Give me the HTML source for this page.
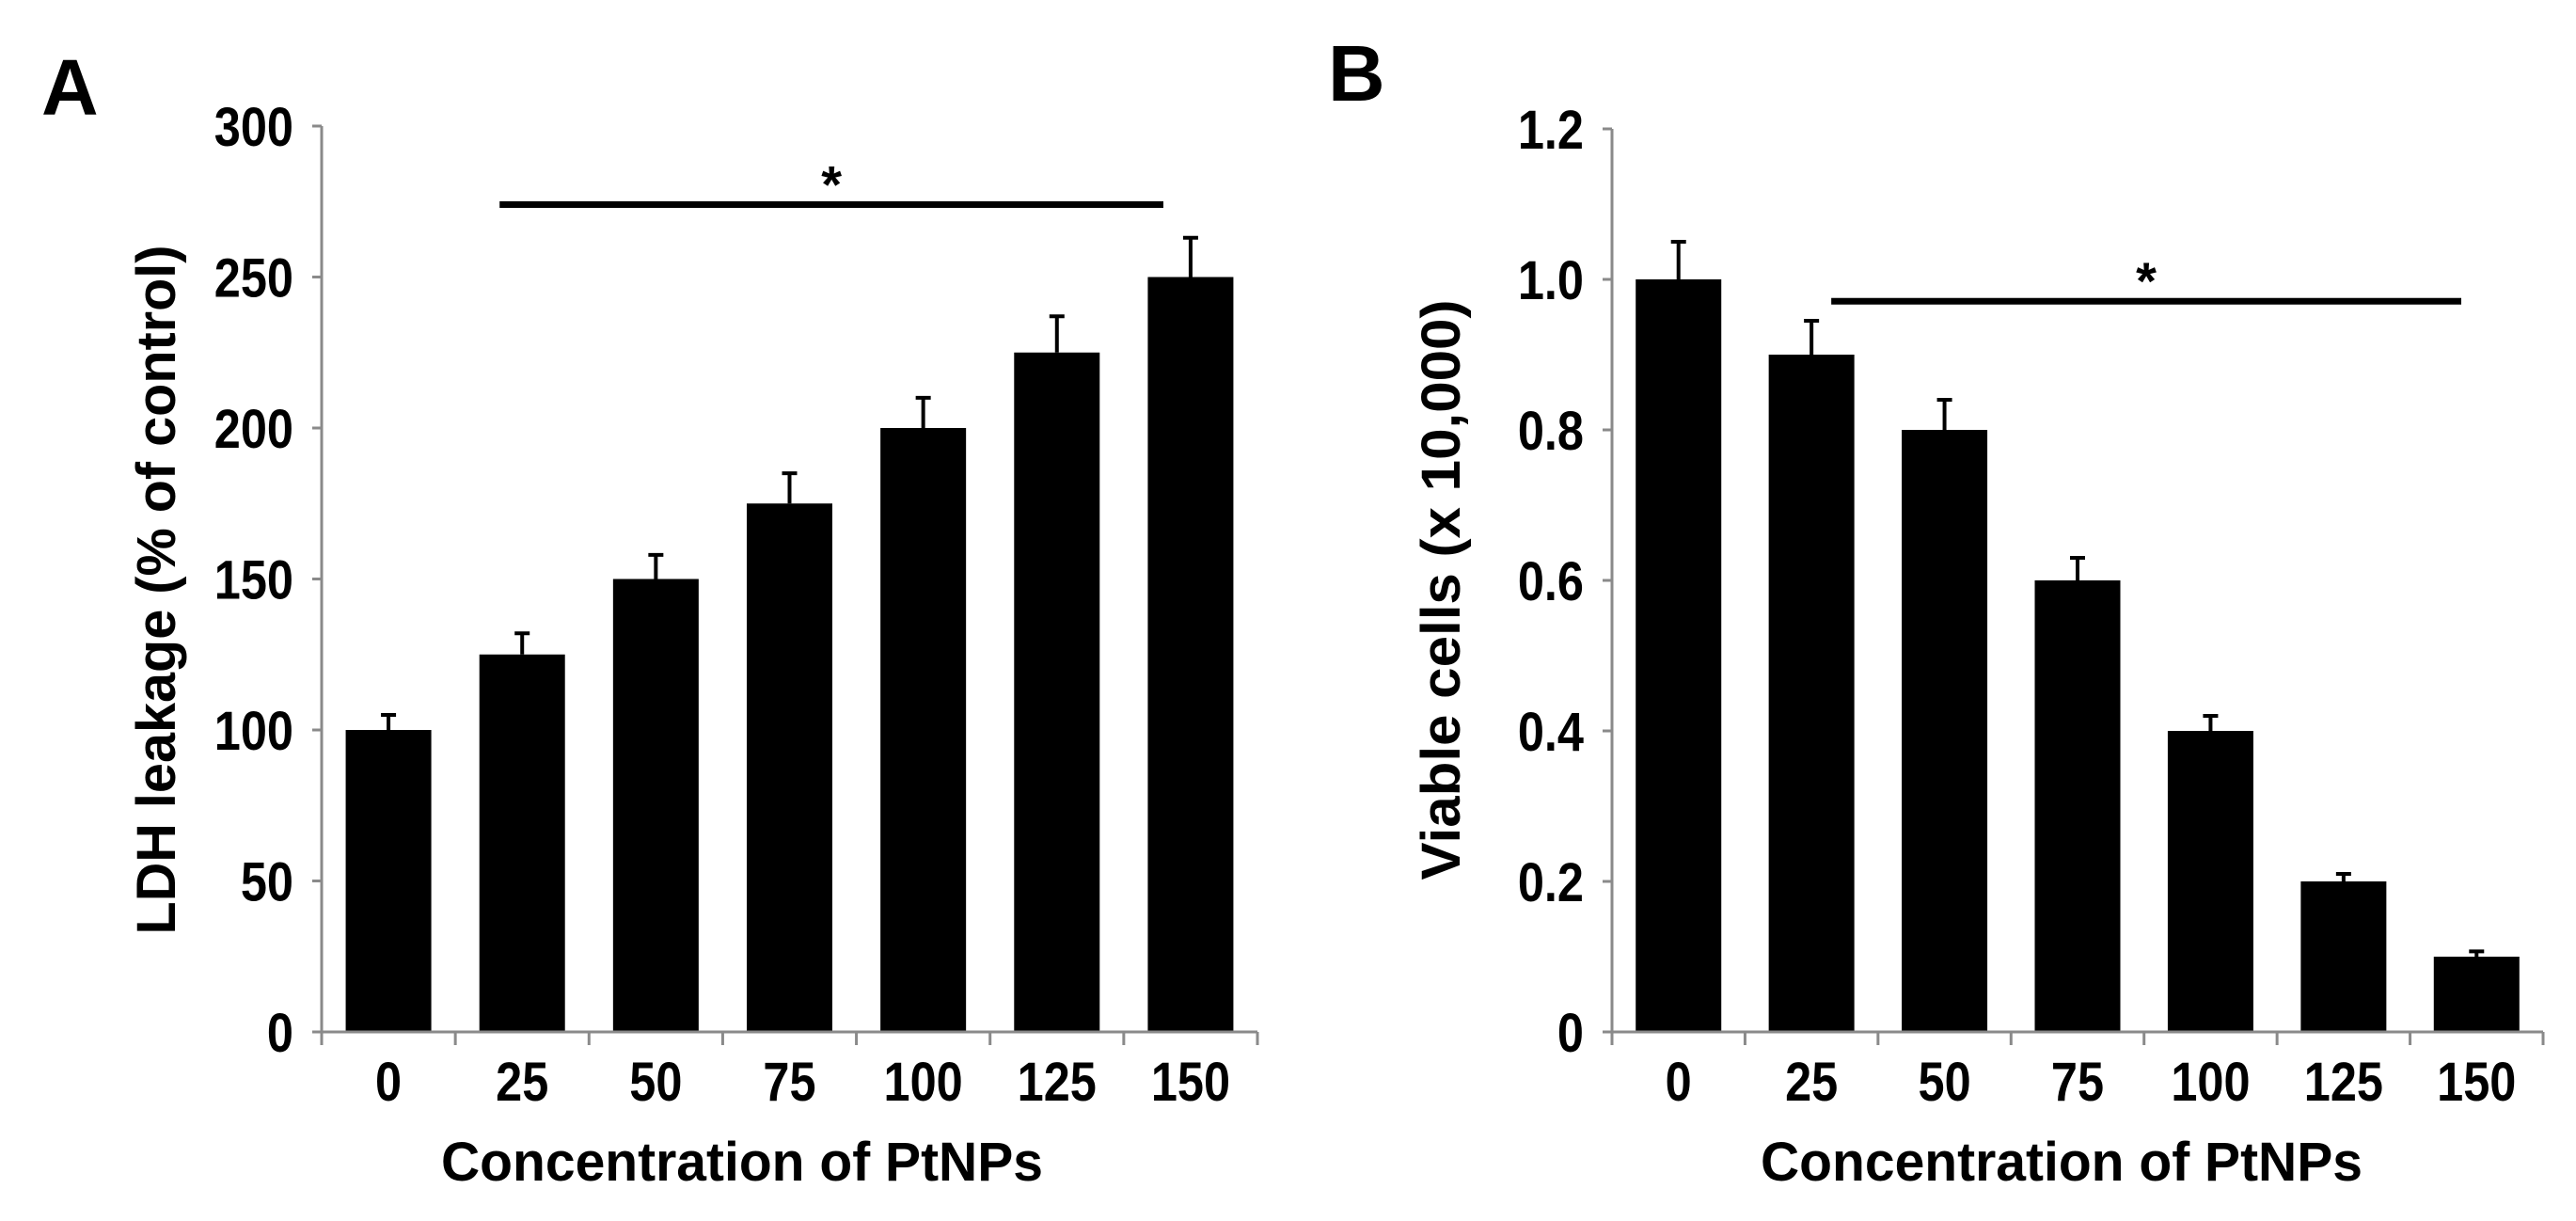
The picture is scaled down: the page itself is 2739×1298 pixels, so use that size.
<!DOCTYPE html>
<html><head><meta charset="utf-8">
<style>
html,body{margin:0;padding:0;background:#fff;}
svg{display:block;font-family:"Liberation Sans",Arial,sans-serif;font-weight:bold;}
</style></head>
<body>
<svg id="fig" width="2739" height="1298" viewBox="0 0 2739 1298" xmlns="http://www.w3.org/2000/svg">
<rect width="2739" height="1298" fill="#fff"/>
</svg>
<script>
const categories = ["0","25","50","75","100","125","150"];
const ldhValues = [100,125,150,175,200,225,250];
const ldhErrors = [5,7,8,10,10,12,13];
const ldhTicks = [0,50,100,150,200,250,300];
const ldhTickLabels = ["0","50","100","150","200","250","300"];
const ldhSig = 274;
const viableValues = [1.0,0.9,0.8,0.6,0.4,0.2,0.1];
const viableErrors = [0.05,0.045,0.04,0.03,0.02,0.01,0.007];
const viableTicks = [0,0.2,0.4,0.6,0.8,1.0,1.2];
const viableTickLabels = ["0","0.2","0.4","0.6","0.8","1.0","1.2"];
const viableSig = 0.971;

const NS="http://www.w3.org/2000/svg";
const svg=document.getElementById('fig');
function mk(tag,attrs,parent){const e=document.createElementNS(NS,tag);for(const k in attrs)e.setAttribute(k,attrs[k]);(parent||svg).appendChild(e);return e;}
function txt(str,attrs,parent){const e=mk('text',attrs,parent);e.textContent=str;return e;}

function panel(cfg){
  const g=mk('g',{});
  
  
  const y0=1097, yTop=cfg.yTop, n=categories.length;
  const ys=v=>y0-(v-cfg.min)/(cfg.max-cfg.min)*(y0-yTop);
  const step=(cfg.axisEnd-cfg.axisX)/n;
  const xc=i=>cfg.axisX+step*(i+0.5);
  const barW=91;
  const L=txt(cfg.letter,{x:cfg.letterX,y:cfg.letterY,'font-size':84},g);
  
  
  for(let i=0;i<n;i++){
    const b=mk('rect',{x:xc(i)-barW/2,y:ys(cfg.values[i]),width:barW,height:y0-ys(cfg.values[i]),fill:'#000'},g);
    
    
    const top=ys(cfg.values[i]+cfg.errors[i]);
    const e=mk('path',{d:`M${xc(i)} ${ys(cfg.values[i])}V${top}M${xc(i)-8} ${top}H${xc(i)+8}`,stroke:'#000','stroke-width':4,fill:'none'},g);
    
    
  }
  const ax=mk('path',{d:`M${cfg.axisX} ${yTop}V${y0}H${cfg.axisEnd}`,stroke:'#8a8a8a','stroke-width':3,fill:'none'},g);
  
  
  for(let i=0;i<=n;i++){
    const x=cfg.axisX+step*i;
    const t=mk('line',{x1:x,x2:x,y1:y0,y2:y0+14,stroke:'#8a8a8a','stroke-width':3},g);
    
    
  }
  for(let i=0;i<n;i++){
    const t=txt(categories[i],{x:xc(i),y:1170,'font-size':58,'text-anchor':'middle',transform:`translate(${xc(i)} 0) scale(0.87 1) translate(${-xc(i)} 0)`},g);
    
    
  }
  cfg.ticks.forEach((v,i)=>{
    const y=ys(v);
    const t=mk('line',{x1:cfg.axisX-10,x2:cfg.axisX,y1:y,y2:y,stroke:'#8a8a8a','stroke-width':3},g);
    
    
    const rx=cfg.axisX-30;
    const l=txt(cfg.tickLabels[i],{x:rx,y:y+21,'font-size':58,'text-anchor':'end',transform:`translate(${rx} 0) scale(0.87 1) translate(${-rx} 0)`},g);
    
    
  });
  const xt=txt('Concentration of PtNPs',{x:cfg.xTitleX,y:1255,'font-size':58,'text-anchor':'middle',textLength:640,lengthAdjust:'spacingAndGlyphs'},g);
  
  
  const yt=txt(cfg.yTitle,{x:0,y:0,'font-size':58,'text-anchor':'middle',textLength:cfg.yTitleLen,lengthAdjust:'spacingAndGlyphs',transform:`translate(${cfg.yTitleX} 627) rotate(-90)`},g);
  
  
  const sy=ys(cfg.sig);
  const s=mk('line',{x1:xc(1)-cfg.sigStartOff,x2:cfg.sigEnd,y1:sy,y2:sy,stroke:'#000','stroke-width':7},g);
  
  
  const st=txt('*',{x:(xc(1)-cfg.sigStartOff+cfg.sigEnd)/2,y:sy-2,'font-size':56,'text-anchor':'middle'},g);
  
  
}

panel({name:'panel-a-ldh-chart',letter:'A',letterX:44,letterY:122,axisX:342,axisEnd:1337,yTop:134,min:0,max:300,
  values:ldhValues,errors:ldhErrors,ticks:ldhTicks,tickLabels:ldhTickLabels,
  yTitle:'LDH leakage (% of control)',yTitleX:186,yTitleLen:733,xTitleX:789,sig:ldhSig,sigStartOff:24,sigEnd:1237});
panel({name:'panel-b-viable-cells-chart',letter:'B',letterX:1412,letterY:107,axisX:1714,axisEnd:2704,yTop:137,min:0,max:1.2,
  values:viableValues,errors:viableErrors,ticks:viableTicks,tickLabels:viableTickLabels,
  yTitle:'Viable cells (x 10,000)',yTitleX:1552,yTitleLen:617,xTitleX:2192,sig:viableSig,sigStartOff:-21,sigEnd:2617});
</script>
</body></html>
